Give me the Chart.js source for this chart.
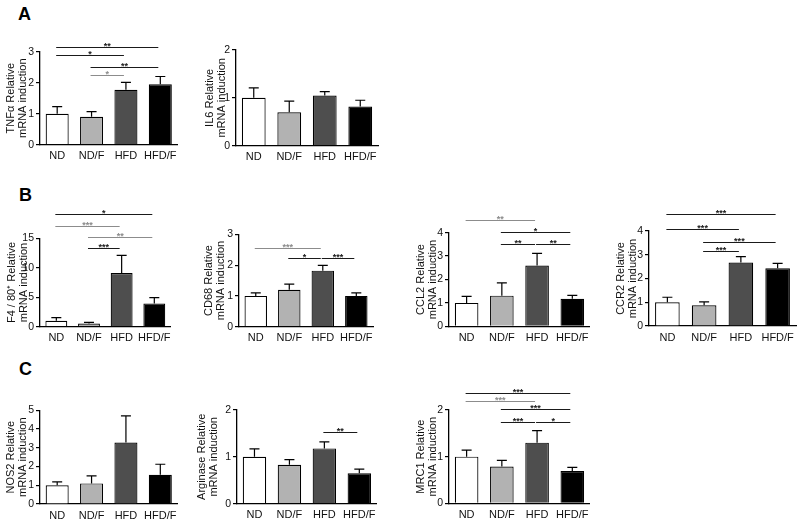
<!DOCTYPE html>
<html><head><meta charset="utf-8">
<script src="https://cdn.jsdelivr.net/npm/chart.js@4.4.1/dist/chart.umd.min.js"></script>
<style>
html,body{margin:0;padding:0;background:#fff;width:800px;height:519px;overflow:hidden;position:relative;font-family:"Liberation Sans",Arial,sans-serif}
canvas{position:absolute}
.lbl{position:absolute;font-weight:bold;font-size:18px;line-height:1;color:#000}
</style></head><body>
<div class="lbl" style="left:18px;top:5px">A</div>
<div class="lbl" style="left:19px;top:186px">B</div>
<div class="lbl" style="left:19px;top:360px">C</div>
<script>
// ---- data ----
const categories = ['ND', 'ND/F', 'HFD', 'HFD/F'];

const tnfMean = [1.0, 0.9, 1.77, 1.95];
const tnfSem  = [0.23, 0.17, 0.24, 0.25];
const tnfTicks = [0, 1, 2, 3];
const tnfSig = [[0, 3, 3.16, '**'], [0, 2, 2.89, '*'], [1, 3, 2.50, '**'], [1, 2, 2.25, '*']];

const il6Mean = [1.0, 0.7, 1.05, 0.82];
const il6Sem  = [0.21, 0.23, 0.08, 0.13];
const il6Ticks = [0, 1, 2];
const il6Sig = [];

const f480Mean = [1.0, 0.55, 9.1, 3.95];
const f480Sem  = [0.55, 0.2, 3.0, 1.0];
const f480Ticks = [0, 5, 10, 15];
const f480Sig = [[0, 3, 19.05, '*'], [0, 2, 17.1, '***'], [1, 3, 15.25, '**'], [1, 2, 13.4, '***']];

const cd68Mean = [1.0, 1.2, 1.82, 1.0];
const cd68Sem  = [0.1, 0.18, 0.17, 0.1];
const cd68Ticks = [0, 1, 2, 3];
const cd68Sig = [[0, 2, 2.55, '***'], [1, 2, 2.22, '*'], [2, 3, 2.22, '***']];

const ccl2Mean = [1.0, 1.31, 2.6, 1.18];
const ccl2Sem  = [0.28, 0.55, 0.52, 0.14];
const ccl2Ticks = [0, 1, 2, 3, 4];
const ccl2Sig = [[0, 2, 4.54, '**'], [1, 3, 4.02, '*'], [1, 2, 3.52, '**'], [2, 3, 3.52, '**']];

const ccr2Mean = [1.0, 0.87, 2.67, 2.43];
const ccr2Sem  = [0.21, 0.15, 0.25, 0.21];
const ccr2Ticks = [0, 1, 2, 3, 4];
const ccr2Sig = [[0, 3, 4.70, '***'], [0, 2, 4.07, '***'], [1, 3, 3.55, '***'], [1, 2, 3.16, '***']];

const nos2Mean = [1.0, 1.1, 3.28, 1.56];
const nos2Sem  = [0.18, 0.4, 1.42, 0.56];
const nos2Ticks = [0, 1, 2, 3, 4, 5];
const nos2Sig = [];

const argMean = [1.0, 0.83, 1.18, 0.65];
const argSem  = [0.17, 0.11, 0.14, 0.09];
const argTicks = [0, 1, 2];
const argSig = [[2, 3, 1.54, '**']];

const mrc1Mean = [1.0, 0.79, 1.3, 0.69];
const mrc1Sem  = [0.14, 0.13, 0.26, 0.08];
const mrc1Ticks = [0, 1, 2];
const mrc1Sig = [[0, 3, 2.37, '***'], [0, 2, 2.20, '***'], [1, 3, 2.02, '***'], [1, 2, 1.75, '***'], [2, 3, 1.75, '*']];

// ---- styles ----
const barColors = ['#ffffff', '#b2b2b2', '#4e4e4e', '#000000'];
const BLACK = '#1a1a1a', GRAY = '#8c8c8c';
const FONT = '"Liberation Sans", Arial, sans-serif';
Chart.defaults.font.family = FONT;
Chart.defaults.color = '#111';

const YW = 44;

function makeChart(cfg) {
  const c = document.createElement('canvas');
  const left = cfg.axisX - YW;
  const top = cfg.rowTop;
  const width = Math.round(cfg.right + 4 - left);
  const height = Math.round(cfg.zero + 24 - top);
  c.width = width; c.height = height;
  c.style.left = left + 'px'; c.style.top = top + 'px';
  c.style.width = width + 'px'; c.style.height = height + 'px';
  document.body.appendChild(c);
  const padTop = cfg.topTick - top;
  const bottomH = height - (cfg.zero - top);
  const ticks = cfg.ticks;
  const overlay = {
    id: 'overlay',
    afterDatasetsDraw(chart) {
      const ctx = chart.ctx, xs = chart.scales.x, ys = chart.scales.y;
      ctx.save();
      ctx.strokeStyle = '#000'; ctx.lineWidth = 1.2;
      cfg.mean.forEach((m, i) => {
        const px = xs.getPixelForValue(i);
        const y0 = ys.getPixelForValue(m);
        const y1 = ys.getPixelForValue(m + cfg.sem[i]);
        ctx.beginPath();
        ctx.moveTo(px, y0); ctx.lineTo(px, y1);
        ctx.moveTo(px - 5, y1); ctx.lineTo(px + 5, y1);
        ctx.stroke();
      });
      cfg.sig.forEach((s, k) => {
        const col = (cfg.sigGray && cfg.sigGray[k]) ? GRAY : BLACK;
        const xa = xs.getPixelForValue(s[0]) - 1;
        const xb = xs.getPixelForValue(s[1]) - 2;
        const yy = Math.round(ys.getPixelForValue(s[2])) + 0.5;
        ctx.strokeStyle = col; ctx.lineWidth = 1;
        ctx.beginPath(); ctx.moveTo(xa, yy); ctx.lineTo(xb, yy); ctx.stroke();
        ctx.fillStyle = col;
        ctx.font = 'bold 9px ' + FONT;
        ctx.textAlign = 'center'; ctx.textBaseline = 'alphabetic';
        ctx.fillText(s[3], (xa + xb) / 2, yy + 1.5);
      });
      ctx.restore();
    }
  };
  new Chart(c, {
    type: 'bar',
    data: {
      labels: categories,
      datasets: [{
        data: cfg.mean,
        backgroundColor: barColors,
        borderColor: '#000',
        borderWidth: 1.2,
        categoryPercentage: 1.0,
        barPercentage: 0.67
      }]
    },
    options: {
      responsive: false,
      animation: false,
      devicePixelRatio: 1,
      layout: { padding: { top: padTop, right: 4, left: 0, bottom: 0 } },
      plugins: { legend: { display: false }, tooltip: { enabled: false } },
      scales: {
        x: {
          afterFit: s => { s.height = bottomH; },
          grid: { display: false, drawTicks: false },
          border: { display: true, color: '#000', width: 1.3 },
          ticks: { padding: 5, color: '#111', font: { size: 11 }, maxRotation: 0, autoSkip: false }
        },
        y: {
          min: ticks[0], max: ticks[ticks.length - 1],
          afterFit: s => { s.width = YW; },
          afterBuildTicks: s => { s.ticks = ticks.map(v => ({ value: v })); },
          grid: { display: true, drawOnChartArea: false, drawTicks: true, tickLength: 4, color: '#000', lineWidth: 1.2 },
          border: { display: true, color: '#000', width: 1.3 },
          ticks: { padding: 2, color: '#111', font: { size: 10.5 } },
          title: {
            display: true,
            text: cfg.title,
            color: '#111',
            font: { size: 11, lineHeight: 1.1 },
            padding: { top: 37.95 - cfg.titleDiff, bottom: 0 }
          }
        }
      }
    },
    plugins: [overlay]
  });
}

makeChart({ axisX: 40, right: 178, rowTop: 25, topTick: 51.7, zero: 144.7, ticks: tnfTicks, mean: tnfMean, sem: tnfSem, sig: tnfSig, sigGray: [0, 0, 0, 1], title: ['TNFα Relative', 'mRNA induction'], titleDiff: 29 });
makeChart({ axisX: 236, right: 378, rowTop: 25, topTick: 50, zero: 145.7, ticks: il6Ticks, mean: il6Mean, sem: il6Sem, sig: il6Sig, title: ['IL6 Relative', 'mRNA induction'], titleDiff: 26 });
makeChart({ axisX: 40, right: 172, rowTop: 200, topTick: 238.3, zero: 326.7, ticks: f480Ticks, mean: f480Mean, sem: f480Sem, sig: f480Sig, sigGray: [0, 1, 1, 0], title: ['F4 / 80⁺ Relative', 'mRNA induction'], titleDiff: 28 });
makeChart({ axisX: 239, right: 374, rowTop: 200, topTick: 234.3, zero: 326.7, ticks: cd68Ticks, mean: cd68Mean, sem: cd68Sem, sig: cd68Sig, sigGray: [1, 0, 0], title: ['CD68 Relative', 'mRNA induction'], titleDiff: 30 });
makeChart({ axisX: 449.3, right: 590, rowTop: 200, topTick: 232.7, zero: 326.3, ticks: ccl2Ticks, mean: ccl2Mean, sem: ccl2Sem, sig: ccl2Sig, sigGray: [1, 0, 0, 0], title: ['CCL2 Relative', 'mRNA induction'], titleDiff: 28 });
makeChart({ axisX: 648.7, right: 796, rowTop: 200, topTick: 231, zero: 326, ticks: ccr2Ticks, mean: ccr2Mean, sem: ccr2Sem, sig: ccr2Sig, title: ['CCR2 Relative', 'mRNA induction'], titleDiff: 28 });
makeChart({ axisX: 40, right: 178, rowTop: 380, topTick: 410.3, zero: 504, ticks: nos2Ticks, mean: nos2Mean, sem: nos2Sem, sig: nos2Sig, title: ['NOS2 Relative', 'mRNA induction'], titleDiff: 29 });
makeChart({ axisX: 237, right: 376.5, rowTop: 380, topTick: 410, zero: 503.7, ticks: argTicks, mean: argMean, sem: argSem, sig: argSig, title: ['Arginase Relative', 'mRNA induction'], titleDiff: 35 });
makeChart({ axisX: 449.3, right: 590, rowTop: 380, topTick: 410, zero: 503.3, ticks: mrc1Ticks, mean: mrc1Mean, sem: mrc1Sem, sig: mrc1Sig, sigGray: [0, 1, 0, 0, 0], title: ['MRC1 Relative', 'mRNA induction'], titleDiff: 28 });
</script>
</body></html>
